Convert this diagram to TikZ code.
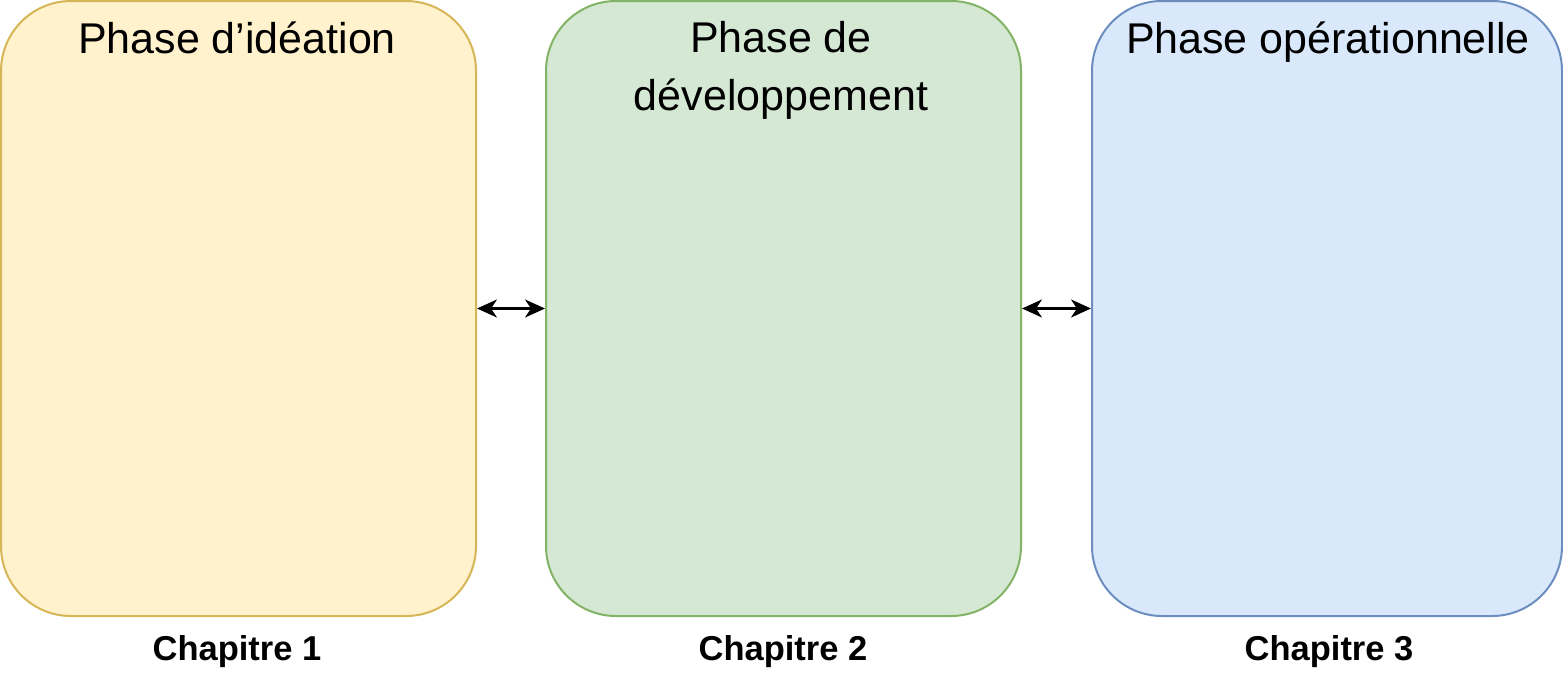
\documentclass[tikz,border=0pt]{standalone}
\usepackage{fontspec}
\defaultfontfeatures{}
\setmainfont{Liberation Sans}
\usetikzlibrary{arrows.meta}
\definecolor{ideafill}{HTML}{FFF2CC}\definecolor{ideadraw}{HTML}{D6B656}
\definecolor{devfill}{HTML}{D5E8D4}\definecolor{devdraw}{HTML}{82B366}
\definecolor{opfill}{HTML}{DAE8FC}\definecolor{opdraw}{HTML}{6C8EBF}
\tikzset{
  phase/.style={rectangle,rounded corners=70pt,minimum width=475pt,minimum height=615pt,line width=2pt},
  title/.style={anchor=north,align=center,font=\fontsize{43}{58}\selectfont},
  chap/.style={font=\fontsize{34.5}{40}\selectfont\bfseries},
  link/.style={{Stealth[length=20pt,width=18pt,inset=6pt]}-{Stealth[length=20pt,width=18pt,inset=6pt]},line width=2.2pt}
}
\begin{document}
\begin{tikzpicture}[x=1pt,y=-1pt]
    \useasboundingbox (0,0) rectangle (1563,688);
    \node[phase,fill=ideafill,draw=ideadraw] (b1) at (238.5,308.5) {};
    \node[phase,fill=devfill,draw=devdraw] (b2) at (783.5,308.5) {};
    \node[phase,fill=opfill,draw=opdraw,minimum width=470pt] (b3) at (1327,308.5) {};
    \node[title] (t1) at (237,18) {Phase d'idéation};
    \node[title] (t2) at (781,18) {Phase de\\développement};
    \node[title] (t3) at (1328,18) {Phase opérationnelle};
    \node[chap] (c1) at (237,652) {Chapitre 1};
    \node[chap] (c2) at (783,652) {Chapitre 2};
    \node[chap] (c3) at (1329,652) {Chapitre 3};
    \draw[link] (b1.east) -- (b2.west);
    \draw[link] (b2.east) -- (b3.west);
\end{tikzpicture}
\end{document}
